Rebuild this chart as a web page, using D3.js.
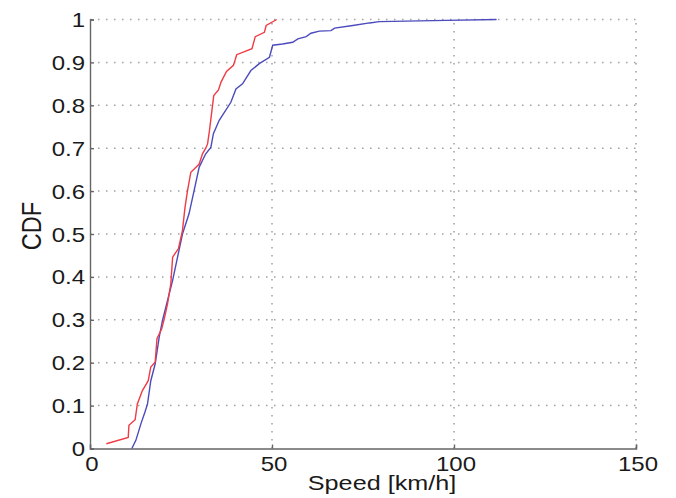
<!DOCTYPE html>
<html>
<head>
<meta charset="utf-8">
<script src="https://cdn.jsdelivr.net/npm/d3@7"></script>
<style>
  html, body { margin: 0; padding: 0; background: #fff; }
  svg { display: block; }
  text { font-family: "Liberation Sans", Arial, Helvetica, sans-serif; fill: #1a1a1a; }
</style>
</head>
<body>
<svg id="chart" width="676" height="498"></svg>
<script>
// red curve
const redSpeed = [4.5, 10.5, 10.7, 12.4, 13, 14.4, 16, 16.7, 17.9, 18.4, 19.7, 20.4, 21.3, 22.2, 22.7, 24.3, 25.4, 26.1, 26.8, 27.7, 30, 30.9, 31.8, 32.3, 32.8, 33.5, 34, 35.3, 36, 37.5, 39.4, 40.3, 44.5, 45.4, 47.9, 48.4, 51.3];
const redCdf   = [0.011, 0.026, 0.054, 0.067, 0.104, 0.135, 0.158, 0.19, 0.201, 0.256, 0.279, 0.302, 0.337, 0.384, 0.446, 0.466, 0.508, 0.562, 0.601, 0.644, 0.663, 0.687, 0.70, 0.71, 0.74, 0.788, 0.823, 0.836, 0.854, 0.879, 0.893, 0.918, 0.932, 0.96, 0.97, 0.986, 1.0];

// blue curve
const blueSpeed = [11.5, 12.6, 14, 15.1, 15.8, 16.7, 17.9, 19, 19.9, 21.3, 22.7, 25.4, 27.2, 28.6, 30, 31.8, 33.2, 33.9, 35.5, 38.7, 40.1, 41.9, 44.2, 46.5, 49.3, 50.2, 52.9, 55.7, 57.1, 59.4, 60.7, 63, 66.2, 67.2, 72.2, 76.8, 79.5, 97.9, 111.7];
const blueCdf   = [0, 0.019, 0.058, 0.085, 0.104, 0.158, 0.197, 0.259, 0.298, 0.345, 0.392, 0.5, 0.547, 0.601, 0.656, 0.687, 0.702, 0.734, 0.765, 0.807, 0.838, 0.85, 0.881, 0.897, 0.912, 0.94, 0.943, 0.947, 0.955, 0.96, 0.968, 0.973, 0.974, 0.98, 0.986, 0.992, 0.995, 0.998, 1.0];

const xTicks = [0, 50, 100, 150];
const yTicks = [0, 0.1, 0.2, 0.3, 0.4, 0.5, 0.6, 0.7, 0.8, 0.9, 1];

const svg = d3.select("#chart");
const plotL = 90, plotR = 636, plotT = 19.5, plotB = 448.5;

const x = d3.scaleLinear().domain([0, 150]).range([plotL, plotR]);
const y = d3.scaleLinear().domain([0, 1]).range([plotB, plotT]);

// dotted grid
const grid = svg.append("g")
  .attr("stroke", "#a0a0a0")
  .attr("stroke-width", 1.5)
  .attr("stroke-dasharray", "1.5,6.5");
grid.selectAll("line.gx").data(xTicks.slice(1)).join("line")
  .attr("x1", d => x(d)).attr("x2", d => x(d))
  .attr("y1", plotB).attr("y2", plotT);
grid.selectAll("line.gy").data(yTicks.slice(1)).join("line")
  .attr("x1", plotL).attr("x2", plotR)
  .attr("y1", d => y(d)).attr("y2", d => y(d));

// axes (left + bottom only, box off)
const xAxis = d3.axisBottom(x).tickValues(xTicks).tickSize(-4).tickFormat("");
const yAxis = d3.axisLeft(y).tickValues(yTicks).tickSize(-4).tickFormat("");

svg.append("g").attr("transform", `translate(0,${plotB})`).call(xAxis)
  .call(g => g.selectAll("path, line").attr("stroke", "#666").attr("stroke-width", 1.4));
svg.append("g").attr("transform", `translate(${plotL},0)`).call(yAxis)
  .call(g => g.selectAll("path, line").attr("stroke", "#666").attr("stroke-width", 1.4));

// tick labels (source picture is stretched a bit horizontally)
const sx = 1.2;
svg.append("g").selectAll("g").data(xTicks).join("g")
  .attr("transform", d => `translate(${x(d) + 2},471) scale(${sx},1)`)
  .append("text")
  .attr("text-anchor", "middle")
  .attr("font-size", 20)
  .text(d => d);

svg.append("g").selectAll("g").data(yTicks).join("g")
  .attr("transform", d => `translate(85,${y(d) + 7.5}) scale(${sx},1)`)
  .append("text")
  .attr("text-anchor", "end")
  .attr("font-size", 20)
  .text(d => d);

// axis titles
svg.append("g").attr("transform", `translate(382,490) scale(1.26,1)`)
  .append("text")
  .attr("text-anchor", "middle")
  .attr("font-size", 20)
  .text("Speed [km/h]");

svg.append("g").attr("transform", `translate(41,226) rotate(-90) scale(1,1.2)`)
  .append("text")
  .attr("text-anchor", "middle")
  .attr("font-size", 23.5)
  .text("CDF");

// curves
const line = d3.line().x(d => x(d[0])).y(d => y(d[1]));

svg.append("path")
  .datum(blueSpeed.map((s, i) => [s, blueCdf[i]]))
  .attr("fill", "none")
  .attr("stroke", "#4b4bbd")
  .attr("stroke-width", 1.4)
  .attr("d", line);

svg.append("path")
  .datum(redSpeed.map((s, i) => [s, redCdf[i]]))
  .attr("fill", "none")
  .attr("stroke", "#f03a44")
  .attr("stroke-width", 1.4)
  .attr("d", line);
</script>
</body>
</html>
